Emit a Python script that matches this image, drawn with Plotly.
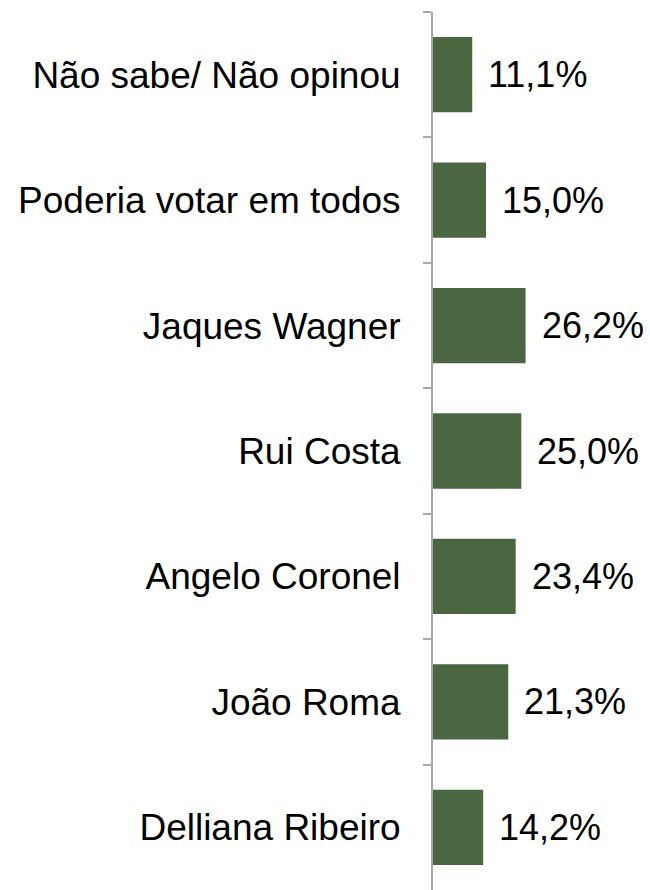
import plotly.graph_objects as go

categories = ["Não sabe/ Não opinou", "Poderia votar em todos", "Jaques Wagner",
              "Rui Costa", "Angelo Coronel", "João Roma", "Delliana Ribeiro"]
values = [11.1, 15.0, 26.2, 25.0, 23.4, 21.3, 14.2]
labels = [f"{v:.1f}".replace(".", ",") + "%" for v in values]

FONT = "Liberation Sans, Arial, sans-serif"

fig = go.Figure(go.Bar(
    y=categories, x=values, orientation="h",
    marker=dict(color="#4a6742", line=dict(width=0)),
    hoverinfo="skip",
))

for c, v, t in zip(categories, values, labels):
    fig.add_annotation(x=v, y=c, text=t, xanchor="left", yanchor="middle",
                       xshift=14, showarrow=False,
                       font=dict(family=FONT, size=36, color="#000000"))

fig.update_layout(
    width=650, height=890,
    margin=dict(l=433, r=5, t=12, b=0),
    paper_bgcolor="white", plot_bgcolor="white",
    bargap=0.4, showlegend=False,
    font=dict(family=FONT, size=37, color="#000000"),
    xaxis=dict(range=[0, 60], visible=False, showgrid=False, zeroline=False),
    yaxis=dict(categoryorder="array", categoryarray=categories,
               range=[6.5, -0.5], showline=True, linecolor="#a3a7ae", linewidth=2,
               ticks="outside", tickson="boundaries", ticklen=8, tickcolor="#a3a7ae",
               tickwidth=2, showgrid=False, zeroline=False, ticklabelstandoff=23,
               tickfont=dict(family=FONT, size=37, color="#000000")),
)

fig.write_html("out.html")
